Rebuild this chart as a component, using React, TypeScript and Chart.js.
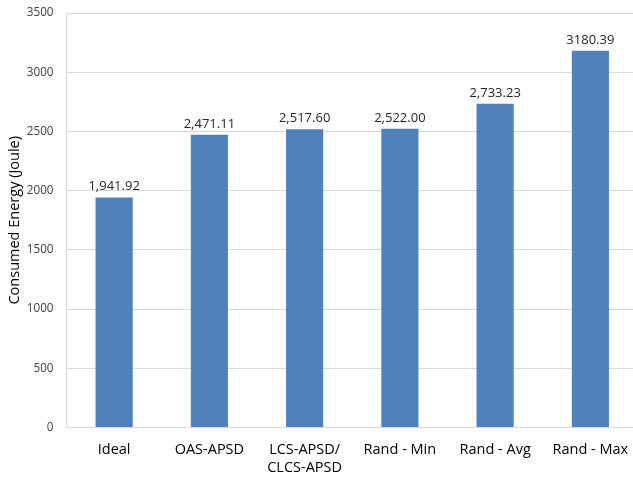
import React, { useEffect, useRef } from "react";
import { Chart, registerables } from "chart.js";

Chart.register(...registerables);

const categories: (string | string[])[] = [
  "Ideal",
  "OAS-APSD",
  ["LCS-APSD/", "CLCS-APSD"],
  "Rand - Min",
  "Rand - Avg",
  "Rand - Max",
];
const energyValues = [1941.92, 2471.11, 2517.6, 2522.0, 2733.23, 3180.39];
const valueLabels = ["1,941.92", "2,471.11", "2,517.60", "2,522.00", "2,733.23", "3180.39"];
const yTitle = "Consumed Energy (Joule)";

const FONT = "'Open Sans', sans-serif";

const dataLabelPlugin = {
  id: "dataLabels",
  afterDatasetsDraw(chart: any) {
    const ctx = chart.ctx;
    const meta = chart.getDatasetMeta(0);
    ctx.save();
    ctx.font = `13px ${FONT}`;
    ctx.fillStyle = "#262626";
    ctx.textAlign = "center";
    ctx.textBaseline = "middle";
    meta.data.forEach((bar: any, i: number) => {
      ctx.fillText(valueLabels[i], bar.x, bar.y - 11);
    });
    ctx.restore();
  },
};

export default function App() {
  const ref = useRef<HTMLCanvasElement>(null);
  useEffect(() => {
    if (!ref.current) return;
    const chart = new Chart(ref.current, {
      type: "bar",
      data: {
        labels: categories as any,
        datasets: [
          {
            data: energyValues,
            backgroundColor: "#4F81BD",
            barPercentage: 0.39,
            categoryPercentage: 1,
          },
        ],
      },
      options: {
        animation: false,
        responsive: false,
        maintainAspectRatio: false,
        layout: { padding: { top: 13, left: 0, right: 0, bottom: 0 } },
        plugins: { legend: { display: false }, tooltip: { enabled: false } },
        scales: {
          x: {
            grid: { display: false, drawTicks: false },
            border: { display: true, color: "#d9d9d9" },
            ticks: {
              color: "#000",
              font: { family: FONT, size: 14.5 },
              padding: 14,
              maxRotation: 0,
              autoSkip: false,
            },
            afterFit: (s: any) => {
              s.height = 54.5;
              s.paddingLeft = 0;
              s.paddingRight = 0;
            },
          },
          y: {
            min: 0,
            max: 3500,
            grid: { color: "#d9d9d9", drawTicks: false },
            border: { display: true, color: "#d9d9d9" },
            ticks: {
              stepSize: 500,
              color: "#404040",
              font: { family: FONT, size: 11.7 },
              padding: 13,
              callback: (v: any) => String(v),
            },
            title: {
              display: true,
              text: yTitle,
              color: "#000",
              font: { family: FONT, size: 14.5 },
              padding: { top: 6, bottom: 0 },
            },
            afterFit: (s: any) => {
              s.width = 66.5;
              s.paddingTop = 0;
              s.paddingBottom = 0;
            },
          },
        },
      },
      plugins: [dataLabelPlugin],
    });
    return () => chart.destroy();
  }, []);
  return (
    <div
      style={{
        position: "fixed",
        left: 0,
        top: 0,
        width: 633,
        height: 482,
        overflow: "hidden",
        background: "#fff",
      }}
    >
      <canvas ref={ref} width={638} height={482} style={{ width: 638, height: 482 }} />
    </div>
  );
}
